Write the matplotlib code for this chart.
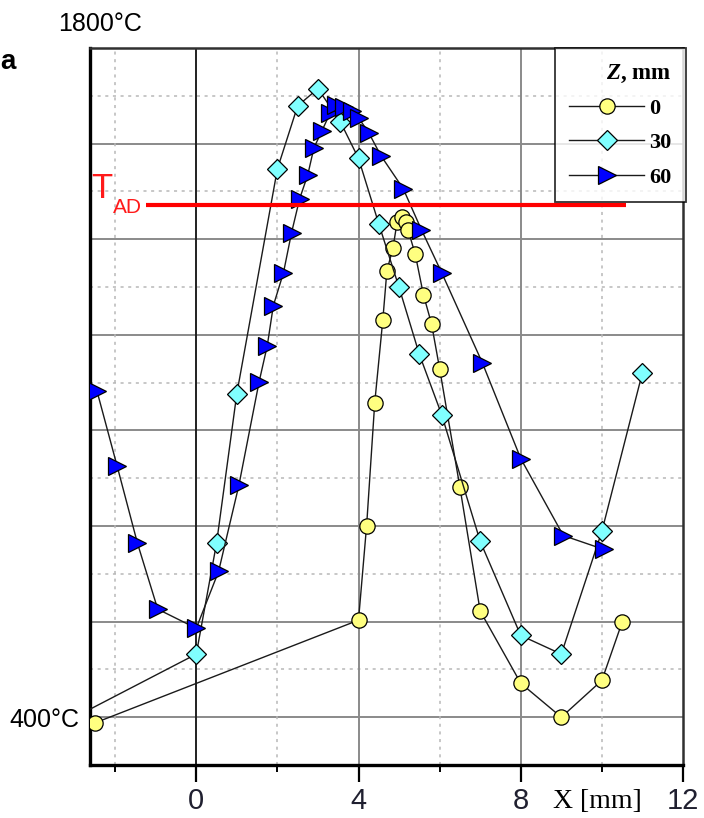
import matplotlib
matplotlib.use("Agg")
import matplotlib.pyplot as plt
from matplotlib.lines import Line2D

# ---- data ----
x_z0 = [-2.5, 4.0, 4.2, 4.4, 4.6, 4.7, 4.85, 4.95, 5.08, 5.18, 5.22, 5.4, 5.6, 5.8, 6.0, 6.5, 7.0, 8.0, 9.0, 10.0, 10.5]
t_z0 = [388, 603, 801, 1058, 1232, 1334, 1382, 1435, 1446, 1437, 1420, 1368, 1284, 1223, 1129, 881, 622, 471, 400, 477, 599]

x_z30 = [-3.0, 0.0, 0.5, 1.0, 2.0, 2.5, 3.0, 3.55, 4.0, 4.5, 5.0, 5.5, 6.05, 7.0, 8.0, 9.0, 10.0, 11.0]
t_z30 = [400, 532, 764, 1077, 1547, 1679, 1715, 1646, 1569, 1432, 1299, 1159, 1033, 768, 571, 532, 789, 1121]

x_z60 = [-2.45, -1.95, -1.45, -0.95, 0.0, 0.55, 1.05, 1.55, 1.75, 1.9, 2.15, 2.35, 2.55, 2.75, 2.9,
         3.1, 3.3, 3.45, 3.65, 3.85, 4.0, 4.25, 4.55, 5.1, 5.55, 6.05, 7.05, 8.0, 9.05, 10.05]
t_z60 = [1083, 925, 764, 626, 586, 705, 885, 1102, 1177, 1261, 1330, 1414, 1485, 1535, 1591,
         1627, 1664, 1681, 1677, 1669, 1654, 1623, 1575, 1506, 1420, 1330, 1142, 941, 780, 751]

t_ad = 1472
t_ad_x = [-1.25, 10.6]

series_labels = ["0", "30", "60"]
x_major = [0, 4, 8, 12]
x_minor = [-2, 2, 6, 10]
y_major = [400, 600, 800, 1000, 1200, 1400, 1600]
y_minor = [500, 700, 900, 1100, 1300, 1500, 1700]

plt.rcParams["mathtext.fontset"] = "custom"
plt.rcParams["mathtext.it"] = "Liberation Serif:italic:bold"
plt.rcParams["mathtext.rm"] = "Liberation Serif:bold"

W, H = 704, 818
fig = plt.figure(figsize=(W / 100, H / 100), dpi=100)
ax = fig.add_axes([90 / W, 1 - 765 / H, 593 / W, 717 / H])
ax.set_xlim(-2.62, 12)
ax.set_ylim(300, 1800)

# grid
for y in y_major:
    ax.axhline(y, color="#8a8a8a", lw=1.4, zorder=0)
for y in y_minor:
    ax.axhline(y, color="#b8b8b8", lw=1.1, ls=(0, (2, 3)), zorder=0)
for x in x_major[1:3]:
    ax.axvline(x, color="#8a8a8a", lw=1.4, zorder=0)
ax.axvline(0, color="#202020", lw=1.4, zorder=0)
for x in x_minor:
    ax.axvline(x, color="#b8b8b8", lw=1.1, ls=(0, (2, 3)), zorder=0)

line_kw = dict(color="#1a1a1a", lw=1.0, markeredgecolor="black", markeredgewidth=0.9)
l0, = ax.plot(x_z0, t_z0, marker="o", markersize=11, markerfacecolor="#ffff80", zorder=3, **line_kw)
l1, = ax.plot(x_z30, t_z30, marker="D", markersize=10.5, markerfacecolor="#80ffff", zorder=4, **line_kw)
l2, = ax.plot(x_z60, t_z60, marker=">", markersize=13, markerfacecolor="#0000ff", zorder=5, **line_kw)

ax.plot(t_ad_x, [t_ad, t_ad], color="#ff0000", lw=3, zorder=6, solid_capstyle="butt")

# axes styling
for s in ["left", "bottom"]:
    ax.spines[s].set_linewidth(2.4)
    ax.spines[s].set_color("black")
for s in ["top", "right"]:
    ax.spines[s].set_linewidth(1.8)
    ax.spines[s].set_color("#303030")

ax.set_xticks(x_major)
ax.set_xticklabels([str(v) for v in x_major])
ax.set_xticks(x_minor, minor=True)
ax.tick_params(axis="x", which="major", direction="out", length=12, width=1.6,
               labelsize=21, pad=4, labelcolor="#202030")
ax.tick_params(axis="x", which="minor", direction="out", length=5, width=1.4)
ax.set_yticks([400])
ax.set_yticklabels(["400°C"])
ax.tick_params(axis="y", which="both", length=0, labelsize=18, pad=8)
for lab in ax.get_xticklabels() + ax.get_yticklabels():
    lab.set_family("Liberation Sans")

fig.text(100 / W, 1 - 24 / H, "1800°C", fontsize=18, family="Liberation Sans",
         ha="center", va="center")
fig.text(0.5 / W, 1 - 62 / H, "a", fontsize=20, family="Liberation Sans", weight="bold",
         ha="left", va="center")
fig.text(597 / W, 1 - 801 / H, "X [mm]", fontsize=20, family="Liberation Serif",
         ha="center", va="center")
fig.text(91 / W, 1 - 198 / H, "T", fontsize=25, family="Liberation Sans", color="#ff1a1a",
         ha="left", va="baseline")
fig.text(113 / W, 1 - 213 / H, "AD", fontsize=15, family="Liberation Sans", color="#ff1a1a",
         ha="left", va="baseline")

# legend
handles = [
    Line2D([], [], marker="o", markersize=11, markerfacecolor="#ffff80", **line_kw),
    Line2D([], [], marker="D", markersize=10.5, markerfacecolor="#80ffff", **line_kw),
    Line2D([], [], marker=">", markersize=13, markerfacecolor="#0000ff", **line_kw),
]
leg = ax.legend(handles, series_labels, title=r"$Z$, mm", loc="upper right",
                bbox_to_anchor=(686 / W, 1 - 48 / H), bbox_transform=fig.transFigure,
                frameon=True, fancybox=False, borderaxespad=0, borderpad=0.65,
                handlelength=3.35, handletextpad=0.25, labelspacing=0.62,
                prop=dict(family="Liberation Serif", weight="bold", size=16))
leg.get_title().set_fontsize(16.5)
leg.get_title().set_family("Liberation Serif")
leg.get_title().set_weight("bold")
leg._legend_box.align = "right"
leg.get_frame().set_edgecolor("black")
leg.get_frame().set_linewidth(1.3)
leg.set_zorder(10)

fig.savefig("out.png", dpi=100)
